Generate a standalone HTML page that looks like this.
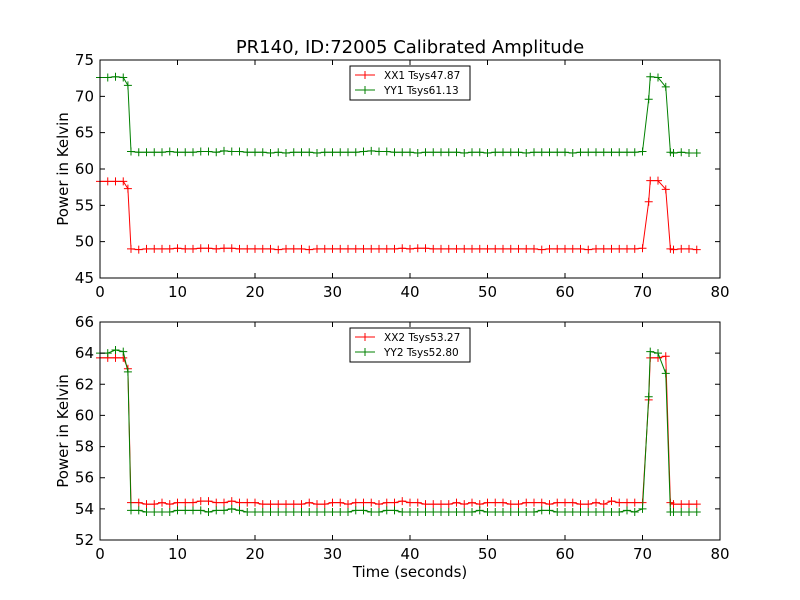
<!DOCTYPE html>
<html><head><meta charset="utf-8"><style>
html,body{margin:0;padding:0;background:#fff;}
svg{display:block;font-family:"DejaVu Sans","Liberation Sans",sans-serif;}
</style></head><body>
<svg id="chart" width="800" height="600" viewBox="0 0 800 600" xmlns="http://www.w3.org/2000/svg">
<rect width="800" height="600" fill="#fff"/>
<text x="410" y="53" font-size="18" text-anchor="middle">PR140, ID:72005 Calibrated Amplitude</text>
<g id="p1"></g>
<g id="p2"></g>
<text x="410" y="577" font-size="15" text-anchor="middle">Time (seconds)</text>
</svg>
<script>
const times=[0,1,2,3,3.6,
4,5,6,7,8,9,10,11,12,13,
14,15,16,17,18,19,20,21,22,23,
24,25,26,27,28,29,30,31,32,33,
34,35,36,37,38,39,40,41,42,43,
44,45,46,47,48,49,50,51,52,53,
54,55,56,57,58,59,60,61,62,63,
64,65,66,67,68,69,70,
70.8,71,72,73,73.6,74,75,76,77];
const xx1=[58.3,58.3,58.3,58.3,57.3,
49.0,48.9,49.0,49.0,49.0,49.0,49.1,49.0,49.0,49.1,
49.1,49.0,49.1,49.1,49.0,49.0,49.0,49.0,49.0,48.9,
49.0,49.0,49.0,48.9,49.0,49.0,49.0,49.0,49.0,49.0,
49.0,49.0,49.0,49.0,49.0,49.1,49.0,49.1,49.1,49.0,
49.0,49.0,49.0,49.0,49.0,49.0,49.0,49.0,49.0,49.0,
49.0,49.0,49.0,48.9,49.0,49.0,49.0,49.0,49.0,48.9,
49.0,49.0,49.0,49.0,49.0,49.0,49.1,
55.5,58.4,58.4,57.2,49.0,48.9,49.0,49.0,48.9];
const yy1=[72.6,72.6,72.7,72.6,71.5,
62.4,62.3,62.3,62.3,62.3,62.4,62.3,62.3,62.3,62.4,
62.4,62.3,62.5,62.4,62.4,62.3,62.3,62.3,62.2,62.3,
62.2,62.3,62.3,62.3,62.2,62.3,62.3,62.3,62.3,62.3,
62.4,62.5,62.4,62.4,62.3,62.3,62.3,62.2,62.3,62.3,
62.3,62.3,62.3,62.2,62.3,62.3,62.2,62.3,62.3,62.3,
62.3,62.2,62.3,62.3,62.3,62.3,62.3,62.2,62.3,62.3,
62.3,62.3,62.3,62.3,62.3,62.3,62.4,
69.6,72.7,72.6,71.3,62.3,62.2,62.3,62.2,62.2];
const xx2=[63.7,63.7,63.7,63.7,63.0,
54.4,54.4,54.3,54.3,54.4,54.3,54.4,54.4,54.4,54.5,
54.5,54.4,54.4,54.5,54.4,54.4,54.4,54.3,54.3,54.3,
54.3,54.3,54.3,54.4,54.3,54.3,54.4,54.4,54.3,54.4,
54.4,54.4,54.3,54.4,54.4,54.5,54.4,54.4,54.3,54.3,
54.3,54.3,54.4,54.3,54.4,54.3,54.4,54.4,54.4,54.3,
54.3,54.4,54.4,54.4,54.3,54.4,54.4,54.4,54.3,54.3,
54.4,54.3,54.5,54.4,54.4,54.4,54.4,
61.0,63.7,63.7,63.8,54.4,54.3,54.3,54.3,54.3];
const yy2=[64.0,64.0,64.2,64.1,62.8,
53.9,53.9,53.8,53.8,53.8,53.8,53.9,53.9,53.9,53.9,
53.8,53.9,53.9,54.0,53.9,53.8,53.8,53.8,53.8,53.8,
53.8,53.8,53.8,53.8,53.8,53.8,53.8,53.8,53.8,53.9,
53.9,53.8,53.8,53.9,53.9,53.8,53.8,53.8,53.8,53.8,
53.8,53.8,53.8,53.8,53.8,53.9,53.8,53.8,53.8,53.8,
53.8,53.8,53.8,53.9,53.9,53.8,53.8,53.8,53.8,53.8,
53.8,53.8,53.8,53.8,53.9,53.8,54.0,
61.2,64.1,64.0,62.7,53.8,53.8,53.8,53.8,53.8];
const xTicks=[0,10,20,30,40,50,60,70,80];
const yTicks1=[45,50,55,60,65,70,75];
const yTicks2=[52,54,56,58,60,62,64,66];
const legend1=["XX1 Tsys47.87","YY1 Tsys61.13"];
const legend2=["XX2 Tsys53.27","YY2 Tsys52.80"];

const NS="http://www.w3.org/2000/svg";
function mk(parent,tag,attrs){const e=document.createElementNS(NS,tag);for(const k in attrs)e.setAttribute(k,attrs[k]);parent.appendChild(e);return e;}
const L=100,R=720;
function xs(v){return L+(v-0)/(80-0)*(R-L);}
function panel(g,top,bot,ymin,ymax,yt,series,leg,legY){
  const ys=v=>bot-(v-ymin)/(ymax-ymin)*(bot-top);
  series.forEach(s=>{
    const pts=times.map((t,i)=>xs(t).toFixed(2)+","+ys(s.v[i]).toFixed(2)).join(" ");
    const pl=mk(g,"polyline",{points:pts,fill:"none",stroke:s.c,"stroke-width":1});
    
    
    let d="";
    times.forEach((t,i)=>{const x=xs(t),y=ys(s.v[i]);d+=`M${x-4},${y}h8M${x},${y-4}v8`;});
    const m=mk(g,"path",{d:d,stroke:s.c,"stroke-width":1,fill:"none"});
    
    
  });
  const fr=mk(g,"rect",{x:L,y:top,width:R-L,height:bot-top,fill:"none",stroke:"#000","stroke-width":1});
  
  
  xTicks.forEach(v=>{
    const x=xs(v);
    mk(g,"path",{d:`M${x},${bot}v-5M${x},${top}v5`,stroke:"#000"});
    const t=mk(g,"text",{x:x,y:bot+19,"font-size":15,"text-anchor":"middle"});
    t.textContent=v;
    
    
  });
  yt.forEach(v=>{
    const y=ys(v);
    mk(g,"path",{d:`M${L},${y}h5M${R},${y}h-5`,stroke:"#000"});
    const t=mk(g,"text",{x:L-6,y:y+5,"font-size":15,"text-anchor":"end"});
    t.textContent=v;
    
    
  });
  const yl=mk(g,"text",{x:0,y:0,"font-size":15,"text-anchor":"middle",transform:`translate(68,${(top+bot)/2}) rotate(-90)`});
  yl.textContent="Power in Kelvin";
  
  
  const lg=mk(g,"g",{});
  
  
  mk(lg,"rect",{x:350,y:legY,width:120,height:34,fill:"#fff",stroke:"#000"});
  leg.forEach((txt,i)=>{
    const yy=legY+9+i*15,c=series[i].c;
    mk(lg,"path",{d:`M355,${yy}h20M365,${yy-4}v8M361,${yy}h8`,stroke:c});
    const t=mk(lg,"text",{x:384,y:yy+4,"font-size":10.5});
    t.textContent=txt;
    
    
  });
}
panel(document.getElementById("p1"),60,278,45,75,yTicks1,[{v:xx1,c:"#ff0000",n:"xx1"},{v:yy1,c:"#008000",n:"yy1"}],legend1,66);
panel(document.getElementById("p2"),322,540,52,66,yTicks2,[{v:xx2,c:"#ff0000",n:"xx2"},{v:yy2,c:"#008000",n:"yy2"}],legend2,328);
</script>
</body></html>
